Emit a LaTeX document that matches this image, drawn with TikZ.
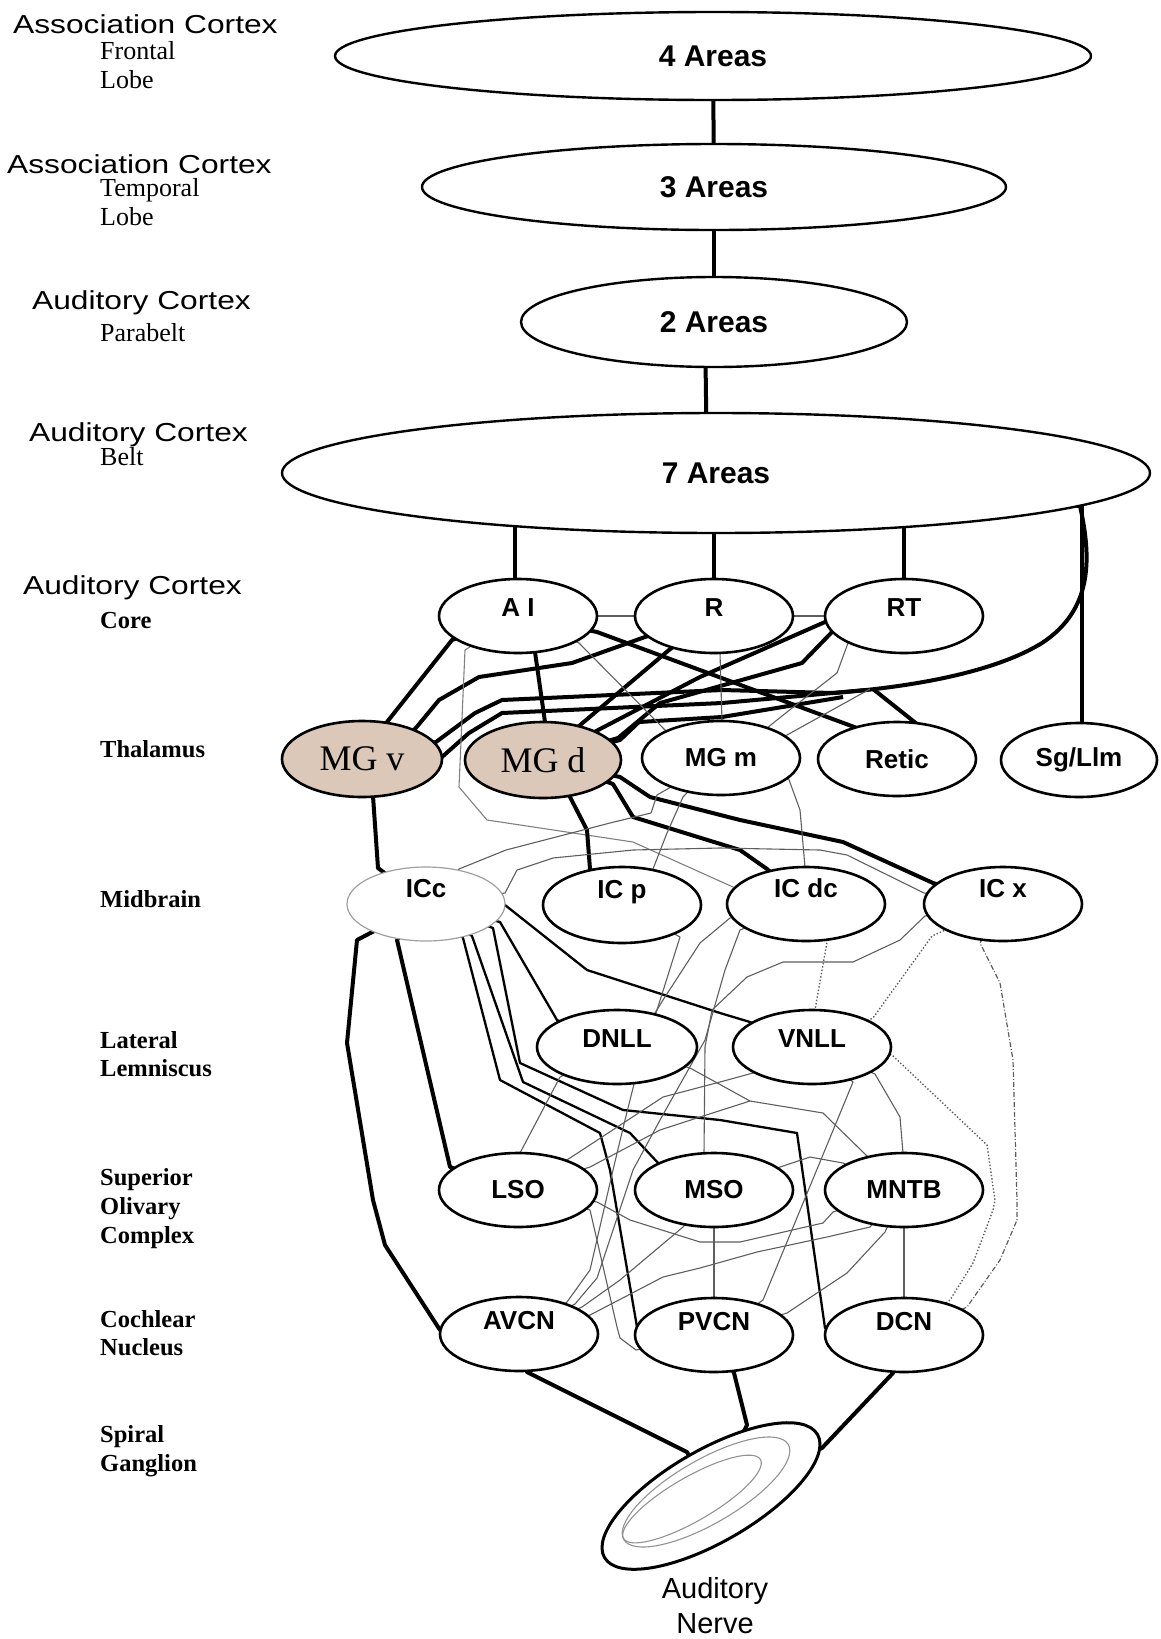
\documentclass[tikz,border=0pt]{standalone}
\usepackage{fontspec}
\setmainfont{Liberation Serif}
\setsansfont{Liberation Sans}
\usetikzlibrary{shapes.geometric,backgrounds}
\definecolor{mgfill}{HTML}{DCC8B9}
\definecolor{thingray}{HTML}{5E5E5E}
\newcommand\widen[1]{\scalebox{1.22}[1]{#1}}
\tikzset{
 ell/.style={ellipse, draw=black, line width=2.6pt, fill=white, inner sep=0pt,
   minimum width=158pt, minimum height=74pt, font=\sffamily\bfseries\fontsize{26}{26}\selectfont},
 bigell/.style={ellipse, draw=black, line width=2.4pt, fill=white, inner sep=0pt,
   font=\sffamily\bfseries\fontsize{30}{30}\selectfont},
 mgell/.style={ell, fill=mgfill, font=\rmfamily\fontsize{36}{36}\selectfont},
 iccell/.style={ell, draw=gray!75, line width=1.2pt},
 up/.style={text height=19pt, text depth=#1},
 thk/.style={line width=4pt, line join=round, draw=black},
 med/.style={line width=2.3pt, line join=round, draw=black},
 thn/.style={line width=1.1pt, line join=round, draw=thingray},
 dotl/.style={line width=1.4pt, draw=thingray, dotted},
 ddotl/.style={line width=1.2pt, draw=thingray, dash pattern=on 5pt off 2pt on 1pt off 2pt},
 lsans/.style={anchor=base west, inner sep=0pt, font=\sffamily\fontsize{26}{26}\selectfont},
 lser/.style={anchor=base west, inner sep=0pt, font=\rmfamily\fontsize{26}{26}\selectfont},
 lserb/.style={anchor=base west, inner sep=0pt, font=\rmfamily\bfseries\fontsize{24.5}{24.5}\selectfont},
}
\begin{document}
\begin{tikzpicture}[x=1pt,y=-1pt]
\useasboundingbox (0,0) rectangle (1161,1639);

% ---------- left labels ----------
\node[lsans] (lac1) at (13,33) {\widen{Association Cortex}};
\node[lser] (lfr) at (100,59) {Frontal};
\node[lser] (llo1) at (100,88) {Lobe};
\node[lsans] (lac2) at (7,173) {\widen{Association Cortex}};
\node[lser] (lte) at (100,196) {Temporal};
\node[lser] (llo2) at (100,225) {Lobe};
\node[lsans] (lau3) at (32,309) {\widen{Auditory Cortex}};
\node[lser] (lpa) at (100,341) {Parabelt};
\node[lsans] (lau4) at (29,441) {\widen{Auditory Cortex}};
\node[lser] (lbe) at (100,465) {Belt};
\node[lsans] (lau5) at (23,594) {\widen{Auditory Cortex}};
\node[lserb] (lco) at (100,628) {Core};
\node[lserb] (lth) at (100,757) {Thalamus};
\node[lserb] (lmi) at (100,907) {Midbrain};
\node[lserb] (lla) at (100,1048) {Lateral};
\node[lserb] (lle) at (100,1076) {Lemniscus};
\node[lserb] (lsu) at (100,1185) {Superior};
\node[lserb] (lol) at (100,1214) {Olivary};
\node[lserb] (lcm) at (100,1243) {Complex};
\node[lserb] (lcc) at (100,1327) {Cochlear};
\node[lserb] (lnu) at (100,1355) {Nucleus};
\node[lserb] (lsp) at (100,1442) {Spiral};
\node[lserb] (lga) at (100,1471) {Ganglion};

% ---------- nodes ----------
\node[bigell, minimum width=756pt, minimum height=88pt] (A4) at (713,56) {4 Areas};
\node[bigell, minimum width=584pt, minimum height=86pt] (A3) at (714,187) {3 Areas};
\node[bigell, minimum width=386pt, minimum height=90pt] (A2) at (714,322) {2 Areas};
\node[bigell, minimum width=868pt, minimum height=120pt] (A7) at (716,473) {7 Areas};

\node[ell, up=18pt] (AI) at (518,616) {A I};
\node[ell, up=18pt] (R) at (714,616) {R};
\node[ell, up=18pt] (RT) at (904,616) {RT};

\node[mgell, minimum width=160pt, minimum height=76pt] (MGv) at (362,759) {MG v};
\node[mgell, minimum width=156pt, minimum height=76pt] (MGd) at (543,760) {MG d};
\node[ell] (MGm) at (721,758) {MG m};
\node[ell] (Retic) at (897,759) {Retic};
\node[ell, minimum width=156pt] (Sg) at (1079,760) {Sg/Llm};

\node[iccell, up=32pt] (ICc) at (426,904) {ICc};
\node[ell, up=32pt, minimum height=76pt] (ICp) at (622,905) {IC p};
\node[ell, up=32pt] (ICdc) at (806,904) {IC dc};
\node[ell, up=32pt] (ICx) at (1003,904) {IC x};

\node[ell, up=18pt, minimum width=160pt] (DNLL) at (617,1047) {DNLL};
\node[ell, up=18pt] (VNLL) at (812,1047) {VNLL};

\node[ell] (LSO) at (518,1190) {LSO};
\node[ell] (MSO) at (714,1190) {MSO};
\node[ell] (MNTB) at (904,1190) {MNTB};

\node[ell, up=28pt] (AVCN) at (519,1334) {AVCN};
\node[ell, up=28pt] (PVCN) at (714,1335) {PVCN};
\node[ell, up=28pt] (DCN) at (904,1335) {DCN};

\node[ellipse, draw=black, line width=3pt, fill=white, inner sep=0pt,
      minimum width=246pt, minimum height=92pt, rotate=30] (AN) at (711,1496) {};
\draw[thn, draw=gray!85, rotate around={30:(706,1492)}] (706,1492) ellipse [x radius=95pt, y radius=32pt];
\draw[thn, draw=gray!85, rotate around={30:(692,1499)}] (692,1499) ellipse [x radius=79pt, y radius=22pt];
\node[align=center, inner sep=0pt, font=\sffamily\fontsize{29}{35}\selectfont] (ANl) at (715,1606) {Auditory\\Nerve};

% ---------- connectors ----------
\begin{scope}[on background layer]
\coordinate (bj1) at (866,690);
\coordinate (bj2) at (843,697);
\coordinate (bj3) at (873,689);
\coordinate (bj4) at (870,689);
\coordinate (jx) at (750,1101);

% top chain
\draw[thk] (A4) -- (A3);
\draw[thk] (A3) -- (A2);
\draw[thk] ([xshift=-9pt]A2.center) -- ([xshift=-9pt]A7.center);
\draw[thk] ([xshift=-3pt]A7.center -| AI.center) -- ([xshift=-3pt]AI.center);
\draw[thk] (A7.center -| R.center) -- (R);
\draw[thk] (A7.center -| RT.center) -- (RT);
\draw[thk] ([xshift=3pt]A7.center -| Sg.center) -- ([xshift=3pt]Sg.center);
% belt curve
\draw[thk] (A7.center) -- (1080,506) .. controls (1092,560) and (1092,610) .. (1042,643)
   .. controls (990,675) and (900,688) .. (833,693) -- (722,690) -- (502,700) -- (475,713) -- (436,742) -- (MGv.center);
\draw[thk] (bj1) -- (722,703) -- (502,713) -- (469,733) -- (442,757) -- (MGv.center);
\draw[thk] (bj2) -- (722,717) -- (639,722) -- (620,740) -- (MGd.center);
\draw[thk] (bj3) -- (917,724) -- (Retic.center);

% core -> thalamus thick
\draw[thk] (AI.center) -- (452,640) -- (387,722) -- (MGv.center);
\draw[thk] (AI.center) -- (535,652) -- (545,722) -- (MGd.center);
\draw[thk] (AI.center) -- (597,632) -- (857,728) -- (Retic.center);
\draw[thk] (R.center) -- (645,637) -- (572,663) -- (479,677) -- (439,700) -- (415,729) -- (MGv.center);
\draw[thk] (R.center) -- (669,650) -- (579,726) -- (MGd.center);
\draw[thk] (RT.center) -- (825,622) -- (700,677) -- (600,729) -- (MGd.center);
\draw[thk] (RT.center) -- (832,632) -- (802,663) -- (660,703) -- (618,738) -- (MGd.center);

% core thin
\draw[thn] (AI) -- (R);
\draw[thn] (R) -- (RT);
\draw[thn] (AI.center) -- (579,643) -- (665,730) -- (MGm.center);
\draw[thn] (R.center) -- (720,653) -- (722,721) -- (MGm.center);
\draw[thn] (RT.center) -- (848,643) -- (837,673) -- (787,712) -- (767,728) -- (MGm.center);
\draw[thn] (bj4) -- (787,735) -- (MGm.center);
\draw[thn, draw=gray] (AI.center) -- (465,650) -- (459,787) -- (487,820) -- (633,842) -- (733,887) -- (ICdc.center);

% thalamus -> midbrain
\draw[thk] (MGv.center) -- (373,796) -- (378,868) -- (ICc.center);
\draw[thk] (MGd.center) -- (570,797) -- (587,830) -- (590,869) -- (ICp.center);
\draw[thk] (MGd.center) -- (613,784) -- (633,817) -- (740,850) -- (767,869) -- (ICdc.center);
\draw[thk] (MGd.center) -- (620,777) -- (650,797) -- (740,820) -- (843,842) -- (933,883) -- (ICx.center);
\draw[thn] (MGm.center) -- (657,795) -- (651,813) -- (610,823) -- (506,850) -- (459,869) -- (ICc.center);
\draw[thn] (MGm.center) -- (683,797) -- (667,833) -- (653,869) -- (ICp.center);
\draw[thn] (MGm.center) -- (788,777) -- (800,810) -- (805,867) -- (ICdc.center);
\draw[thn] (ICc.center) -- (505,893) -- (517,870) -- (553,858) -- (633,850) -- (720,848) -- (820,850) -- (847,855) -- (924,893) -- (ICx.center);

% ICc descending
\draw[thk] (ICc.center) -- (357,940) -- (347,1043) -- (373,1200) -- (385,1245) -- (440,1330) -- (AVCN.center);
\draw[thk] (ICc.center) -- (397,940) -- (450,1167) -- (LSO.center);
\draw[med] (ICc.center) -- (500,922) -- (557,1020) -- (DNLL.center);
\draw[med] (ICc.center) -- (505,905) -- (587,970) -- (720,1013) -- (750,1022) -- (VNLL.center);
\draw[med] (ICc.center) -- (463,938) -- (500,1080) -- (600,1133) -- (610,1170) -- (637,1327) -- (PVCN.center);
\draw[med] (ICc.center) -- (472,936) -- (523,1082) -- (630,1133) -- (660,1165) -- (MSO.center);
\draw[med] (ICc.center) -- (493,928) -- (520,1063) -- (623,1110) -- (720,1120) -- (797,1133) -- (825,1328) -- (DCN.center);

% thin lower mesh
\draw[thn] (DNLL.center) -- (560,1077) -- (520,1153) -- (LSO.center);
\draw[thn] (DNLL.center) -- (690,1068) -- (jx) -- (823,1113) -- (867,1156) -- (MNTB.center);
\draw[thn] (LSO.center) -- (590,1167) -- (660,1130) -- (700,1117) -- (jx);
\draw[thn] (LSO.center) -- (570,1158) -- (663,1097) -- (720,1082) -- (753,1073) -- (VNLL.center);
\draw[thn] (VNLL.center) -- (875,1074) -- (900,1117) -- (903,1153) -- (MNTB.center);
\draw[thn] (VNLL.center) -- (853,1082) -- (763,1300) -- (PVCN.center);
\draw[thn] (ICp.center) -- (680,937) -- (657,1010) -- (640,1060) -- (625,1120) -- (613,1170) -- (590,1270) -- (567,1302) -- (AVCN.center);
\draw[thn] (ICdc.center) -- (740,930) -- (725,970) -- (705,1040) -- (660,1120) -- (633,1170) -- (597,1278) -- (575,1304) -- (AVCN.center);
\draw[thn] (ICdc.center) -- (730,918) -- (700,943) -- (663,1000) -- (655,1013) -- (DNLL.center);
\draw[thn] (ICx.center) -- (925,916) -- (900,940) -- (853,962) -- (783,962) -- (747,977) -- (712,1010) -- (705,1047) -- (704,1154) -- (MSO.center);
\draw[thn] (AVCN.center) -- (582,1307) -- (620,1280) -- (683,1227) -- (MSO.center);
\draw[thn] (AVCN.center) -- (590,1315) -- (663,1277) -- (700,1268) -- (757,1252) -- (827,1237) -- (870,1227) -- (MNTB.center);
\draw[thn] (LSO.center) -- (597,1202) -- (630,1220) -- (700,1242) -- (740,1242) -- (823,1223) -- (833,1212) -- (MNTB.center);
\draw[thn] (MSO.center) -- (780,1167) -- (810,1157) -- (843,1163) -- (MNTB.center);
\draw[thn] (LSO.center) -- (590,1210) -- (617,1327) -- (620,1338) -- (636,1350) -- (PVCN.center);
\draw[thn] (MSO) -- (PVCN);
\draw[thn] (MNTB) -- (DCN);
\draw[thn] (MNTB.center) -- (885,1232) -- (847,1273) -- (787,1313) -- (PVCN.center);

% dotted
\draw[dotl] (ICdc.center) -- (827,942) -- (815,1010) -- (VNLL.center);
\draw[dotl] (ICx.center) -- (932,936) -- (873,1018) -- (VNLL.center);
\draw[ddotl] (ICx.center) -- (980,943) -- (1000,983) -- (1013,1060) -- (1017,1200) -- (1017,1220) -- (1000,1260) -- (967,1307) -- (DCN.center);
\draw[dotl] (VNLL.center) -- (892,1055) -- (987,1145) -- (995,1200) -- (993,1210) -- (973,1263) -- (950,1300) -- (DCN.center);

% to auditory nerve
\draw[thk] (AVCN.center) -- (527,1372) -- (687,1452) -- (AN.center);
\draw[thk] (PVCN.center) -- (734,1373) -- (747,1425) -- (AN.center);
\draw[thk] (DCN.center) -- (893,1373) -- (822,1448) -- (AN.center);
\end{scope}
\end{tikzpicture}
\end{document}
